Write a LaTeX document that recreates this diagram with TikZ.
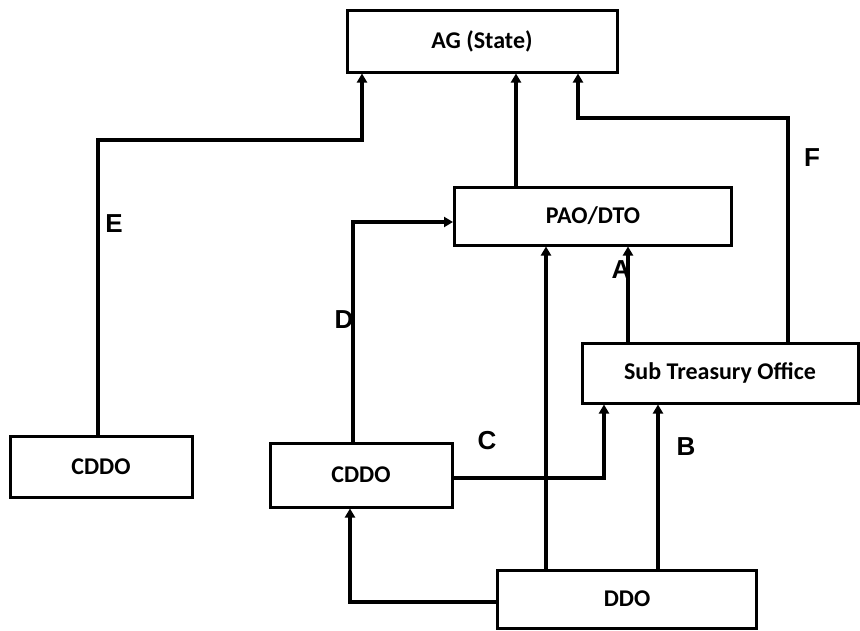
\documentclass[tikz,border=0pt]{standalone}
\usepackage{fontspec}
\setmainfont{Carlito}
\usetikzlibrary{arrows.meta}
\begin{document}
\begin{tikzpicture}[x=1pt,y=-1pt,
  box/.style={draw,line width=3pt,rectangle,inner sep=0pt,font=\bfseries\fontsize{24}{26}\selectfont},
  link/.style={line width=3.6pt,-{Triangle[width=10pt,length=9pt]}},
  lbl/.style={font=\fontspec{Liberation Sans}\bfseries\fontsize{26}{28}\selectfont,inner sep=0pt}]
\useasboundingbox (0,0) rectangle (860,630);
\node[box,minimum width=270pt,minimum height=62pt] (ag) at (482,41) {AG (State)};
\node[box,minimum width=277pt,minimum height=58pt] (pao) at (593,216) {PAO/DTO};
\node[box,minimum width=276pt,minimum height=60pt] (sto) at (720,373) {Sub Treasury Office};
\node[box,minimum width=182pt,minimum height=61pt] (cddoa) at (101,467) {CDDO};
\node[box,minimum width=182pt,minimum height=64pt] (cddob) at (361,475) {CDDO};
\node[box,minimum width=259pt,minimum height=58pt] (ddo) at (627,599) {DDO};
% E
\coordinate (e1) at (98,140);
\coordinate (e2) at (362,140);
\draw[link] (cddoa.north -| e1) -- (e1) -- (e2) -- (ag.south -| e2);
\node[lbl] (le) at (114,224) {E};
% PAO to AG
\coordinate (p1) at (516,0);
\draw[link] (pao.north -| p1) -- (ag.south -| p1);
% F
\coordinate (f1) at (788,118);
\coordinate (f2) at (578,118);
\draw[link] (sto.north -| f1) -- (f1) -- (f2) -- (ag.south -| f2);
\node[lbl] (lf) at (812,158) {F};
% D
\coordinate (d1) at (353,222);
\draw[link] (cddob.north -| d1) -- (d1) -- (pao.west |- d1);
\node[lbl] (ld) at (344,320) {D};
% DDO to PAO
\coordinate (q1) at (546,0);
\draw[link] (ddo.north -| q1) -- (pao.south -| q1);
% A
\coordinate (a1) at (628,0);
\draw[link] (sto.north -| a1) -- (pao.south -| a1);
\node[lbl] (la) at (621,270) {A};
% C
\coordinate (c1) at (604,478);
\draw[link] (cddob.east |- c1) -- (c1) -- (sto.south -| c1);
\node[lbl] (lc) at (487,441) {C};
% B
\coordinate (b1) at (658,0);
\draw[link] (ddo.north -| b1) -- (sto.south -| b1);
\node[lbl] (lb) at (686,447) {B};
% DDO to CDDO
\coordinate (g1) at (350,602);
\draw[link] (ddo.west |- g1) -- (g1) -- (cddob.south -| g1);
\end{tikzpicture}
\end{document}
